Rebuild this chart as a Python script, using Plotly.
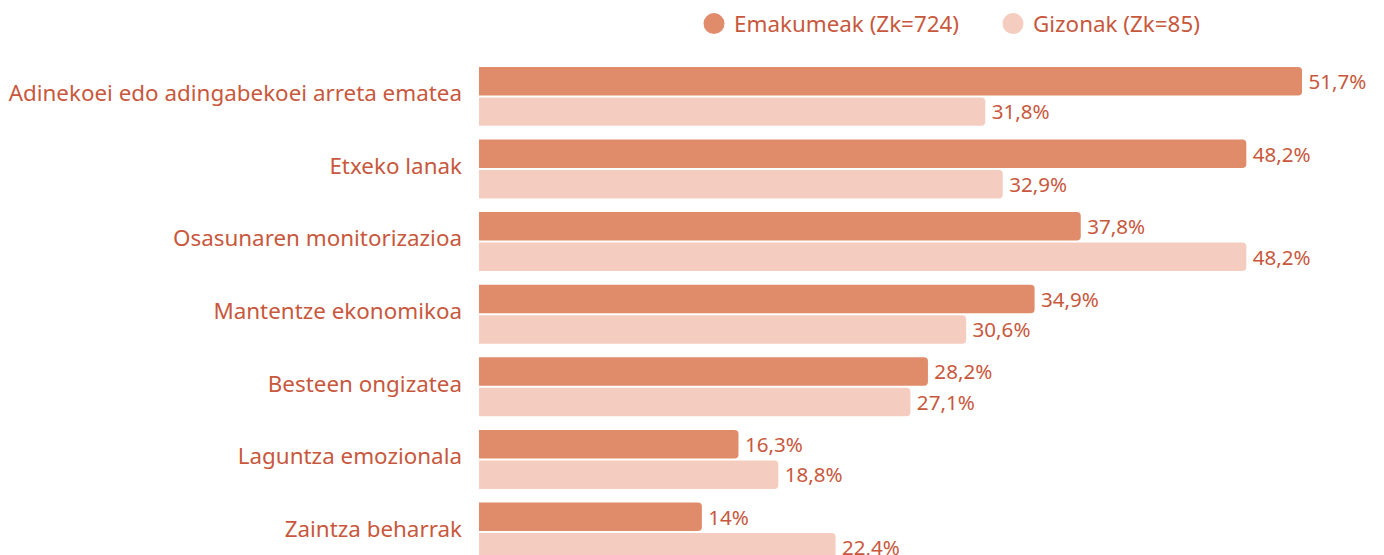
import plotly.graph_objects as go

# --- DATA ---
categories = [
    "Adinekoei edo adingabekoei arreta ematea",
    "Etxeko lanak",
    "Osasunaren monitorizazioa",
    "Mantentze ekonomikoa",
    "Besteen ongizatea",
    "Laguntza emozionala",
    "Zaintza beharrak",
]
women = [51.7, 48.2, 37.8, 34.9, 28.2, 16.3, 14.0]
men = [31.8, 32.9, 48.2, 30.6, 27.1, 18.8, 22.4]
series_names = ["Emakumeak (Zk=724)", "Gizonak (Zk=85)"]

# --- STYLE ---
DARK = "#E08C6B"
LIGHT = "#F5CDC0"
TEXT = "#C8583D"
FONT = "Noto Sans"
FS = 22.4
PAGE_PAD = 8  # default body margin of the html page


def fmt(v):
    s = f"{v:.1f}".rstrip("0").rstrip(".")
    return "\u2009" + s.replace(".", ",") + "%"


fig = go.Figure()
for vals, color in [(women, DARK), (men, LIGHT)]:
    fig.add_trace(go.Bar(
        y=categories, x=vals, orientation="h",
        marker=dict(color=color, line_width=0),
        text=[fmt(v) for v in vals], textposition="outside",
        textfont=dict(color=TEXT, size=FS, family=FONT),
        cliponaxis=False, showlegend=False, hoverinfo="skip",
    ))

# legend entries with round markers
for name, color in zip(series_names, [DARK, LIGHT]):
    fig.add_trace(go.Scatter(
        x=[None], y=[None], mode="markers", name=name,
        marker=dict(color=color, size=16, symbol="circle",
                    line=dict(color=color, width=6)),
    ))

fig.update_layout(
    width=1384, height=555,
    margin=dict(l=479 - PAGE_PAD, r=0, t=55 - PAGE_PAD, b=0, autoexpand=False),
    paper_bgcolor="white", plot_bgcolor="white",
    barmode="group", bargap=0.16, bargroupgap=0.066,
    barcornerradius=4,
    font=dict(family=FONT, color=TEXT, size=FS),
    showlegend=True,
    legend=dict(orientation="h", xref="container", yref="container",
                x=(688 - PAGE_PAD + 6) / 1384, y=1 - (24 - PAGE_PAD) / 555,
                xanchor="left", yanchor="middle",
                entrywidth=254, font=dict(size=FS, color=TEXT),
                itemsizing="trace"),
    xaxis=dict(range=[0, 57.35], visible=False, fixedrange=True, automargin=False),
    yaxis=dict(categoryorder="array", categoryarray=categories,
               autorange=False, range=[6.4266, -0.57], automargin=False,
               showgrid=False, showline=False, zeroline=False,
               ticks="", ticklabelstandoff=16, ticklabelshift=3,
               tickfont=dict(size=FS, color=TEXT)),
)

fig.write_html("out.html")
